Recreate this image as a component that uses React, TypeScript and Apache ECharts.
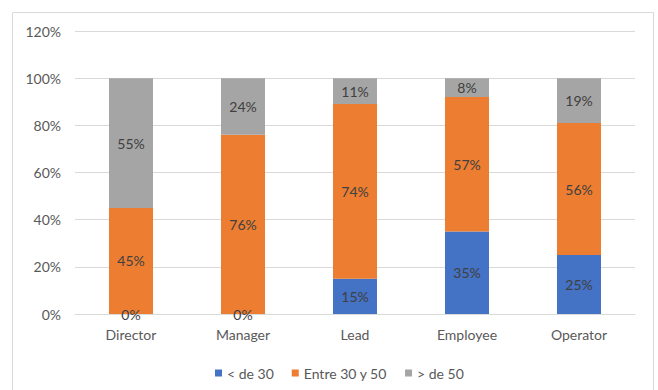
import React, { useEffect, useRef } from "react";
import * as echarts from "echarts";

const categories = ["Director", "Manager", "Lead", "Employee", "Operator"];
const under30 = [0, 0, 15, 35, 25];
const between30and50 = [45, 76, 74, 57, 56];
const over50 = [55, 24, 11, 8, 19];
const seriesNames = ["< de 30", "Entre 30 y 50", "> de 50"];
const colors = ["#4472C4", "#ED7D31", "#A5A5A5"];

const FONT = "Lato";

export default function App() {
  const ref = useRef<HTMLDivElement>(null);
  useEffect(() => {
    if (!ref.current) return;
    const chart = echarts.init(ref.current, null, { renderer: "svg" });
    const label = {
      show: true,
      position: "inside",
      formatter: (p: any) => p.value + "%",
      color: "#404040",
      fontSize: 14,
      fontFamily: FONT,
    };
    const datasets = [under30, between30and50, over50];
    chart.setOption({
      animation: false,
      backgroundColor: "#ffffff",
      textStyle: { fontFamily: FONT },
      graphic: [
        {
          type: "rect",
          shape: { x: 12.5, y: 12.5, width: 641, height: 380 },
          style: { fill: "none", stroke: "#d9d9d9", lineWidth: 1 },
          silent: true,
        },
      ],
      grid: { left: 75, right: 23, top: 31, bottom: 76, containLabel: false },
      legend: {
        left: 210,
        top: 361,
        itemWidth: 7,
        itemHeight: 7,
        itemGap: 18,
        icon: "rect",
        textStyle: { color: "#595959", fontSize: 14, fontFamily: FONT },
        data: seriesNames,
      },
      xAxis: {
        type: "category",
        data: categories,
        axisLine: { show: true, lineStyle: { color: "#d9d9d9" } },
        axisTick: { show: false },
        axisLabel: { color: "#595959", fontSize: 14, fontFamily: FONT, margin: 13 },
      },
      yAxis: {
        type: "value",
        min: 0,
        max: 120,
        interval: 20,
        axisLine: { show: false },
        axisTick: { show: false },
        axisLabel: {
          color: "#595959",
          fontSize: 14,
          fontFamily: FONT,
          margin: 14,
          formatter: (v: number) => v + "%",
        },
        splitLine: { lineStyle: { color: "#d9d9d9" } },
      },
      series: seriesNames.map((name, i) => ({
        name,
        type: "bar",
        stack: "total",
        barWidth: 44,
        data: datasets[i],
        itemStyle: { color: colors[i] },
        label,
      })),
    });
    return () => chart.dispose();
  }, []);
  return (
    <div
      ref={ref}
      style={{ position: "fixed", left: 0, top: 0, width: 658, height: 390 }}
    />
  );
}
